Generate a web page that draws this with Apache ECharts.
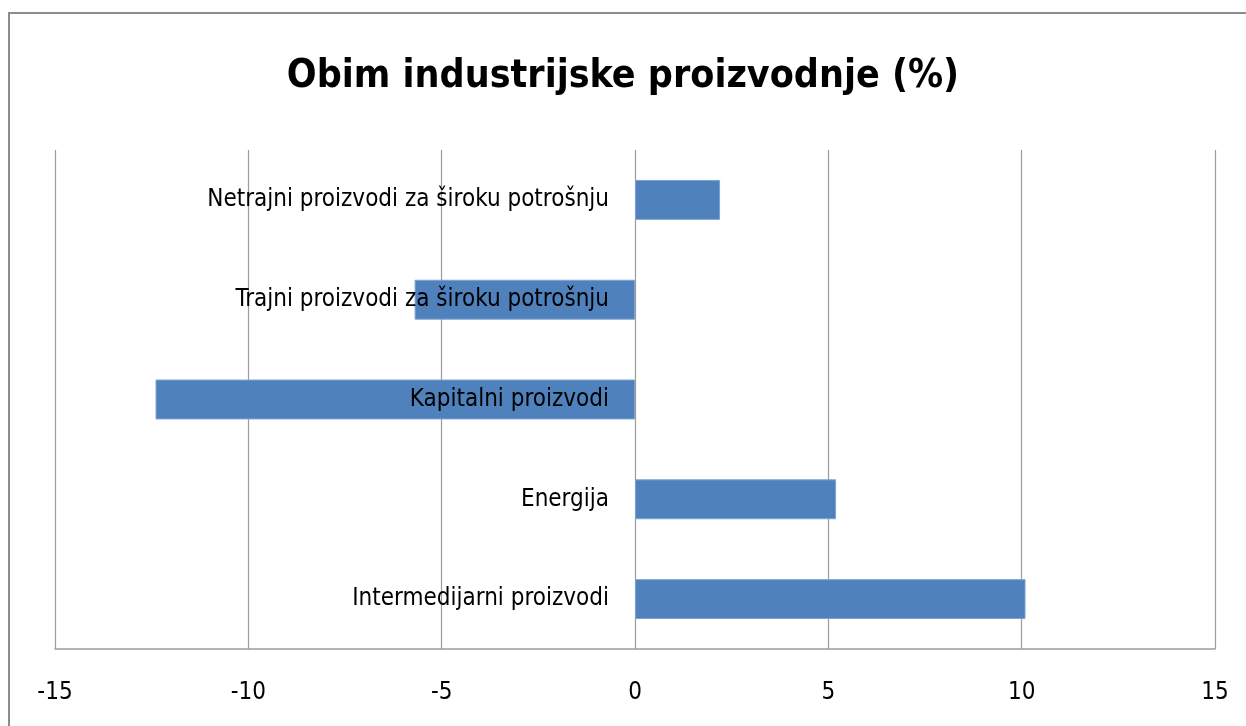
<!DOCTYPE html>
<html>
<head>
<meta charset="utf-8">
<script src="https://cdn.jsdelivr.net/npm/echarts@6/dist/echarts.min.js"></script>
<style>
    html, body { margin: 0; padding: 0; background: #fff; }
    #main { width: 1246px; height: 726px; position: relative; }
    /* okvir oko grafikona */
    .frame { position: absolute; left: 8px; top: 12px; width: 1300px; height: 800px;
             border: 2px solid #8c8c8c; box-sizing: border-box; pointer-events: none; }
</style>
</head>
<body>
<div id="main"></div>
<div class="frame"></div>
<script>
// podaci
var categories = ['Intermedijarni proizvodi', 'Energija', 'Kapitalni proizvodi',
    'Trajni proizvodi za široku potrošnju', 'Netrajni proizvodi za široku potrošnju'];
var values = [10.1, 5.2, -12.4, -5.7, 2.2];
var labelAnchors = [0, 0, 0, 0, 0];   // nazivi kategorija stoje uz nulu
var axisMin = -15;
var axisMax = 15;
var axisStep = 5;

var narrowFont = '"DejaVu Sans Condensed", "Liberation Sans Narrow", "Noto Sans", sans-serif';

(function () {
    var myChart = echarts.init(document.getElementById('main'));
    var option = {
        animation: false,
        title: {
            text: 'Obim industrijske proizvodnje (%)',
            left: 'center',
            top: 52,
            textStyle: {
                fontFamily: narrowFont,
                fontWeight: 'bold',
                fontSize: 39,
                color: '#000'
            }
        },
        grid: {
            left: 55,
            right: 31,
            top: 150,
            bottom: 77,
            containLabel: false,
            outerBoundsMode: 'none'
        },
        xAxis: {
            type: 'value',
            min: axisMin,
            max: axisMax,
            interval: axisStep,
            axisLine: { show: true, lineStyle: { color: '#9c9c9c', width: 1.5 } },
            axisTick: { show: false },
            axisLabel: {
                margin: 32,
                fontFamily: narrowFont,
                fontSize: 24,
                color: '#000'
            },
            splitLine: { lineStyle: { color: '#9c9c9c', width: 1.2 } }
        },
        yAxis: {
            type: 'category',
            data: categories,
            axisLine: { show: false },
            axisTick: { show: false },
            axisLabel: { show: false }
        },
        series: [
            {
                type: 'bar',
                data: values,
                barWidth: '40%',
                z: 2,
                itemStyle: {
                    color: '#4f81bd',
                    borderColor: '#7ea3d0',
                    borderWidth: 1
                }
            },
            {
                // samo nazivi kategorija, lijevo od nule
                type: 'bar',
                data: labelAnchors,
                barWidth: '40%',
                barGap: '-100%',
                z: 5,
                silent: true,
                itemStyle: { color: 'transparent' },
                label: {
                    show: true,
                    position: 'left',
                    distance: 26,
                    formatter: '{b}',
                    fontFamily: narrowFont,
                    fontSize: 24,
                    color: '#000'
                }
            }
        ]
    };
    myChart.setOption(option);
})();
</script>
</body>
</html>
